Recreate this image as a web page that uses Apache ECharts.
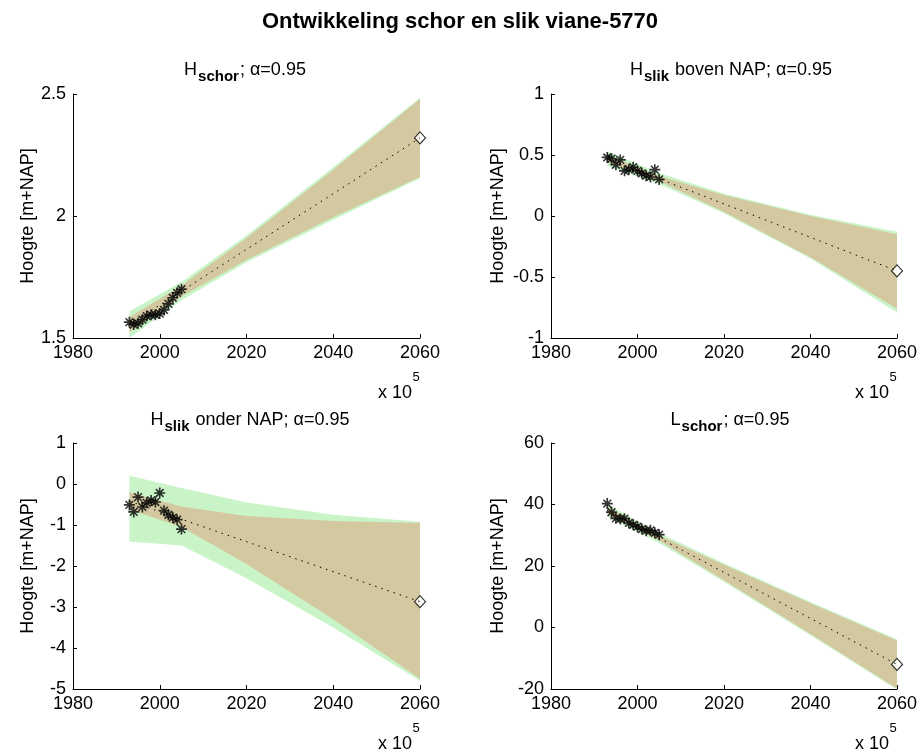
<!DOCTYPE html>
<html>
<head>
<meta charset="utf-8">
<script src="https://cdn.jsdelivr.net/npm/echarts@6/dist/echarts.min.js"></script>
<style>
  html, body { margin: 0; background: #fff; }
  #chart { width: 920px; height: 753px; }
</style>
</head>
<body>
<div id="chart"></div>
<script>
    var FONT = 'Liberation Sans, Arial, sans-serif';

    // meetjaren
    var years = [1993, 1994, 1995, 1996, 1997, 1998, 1999, 2000, 2001, 2002, 2003, 2004, 2005];
    var bandYears = [1993, 2005, 2020, 2040, 2060];
    var predYear = 2060;

    // H schor
    var schorH = [1.565, 1.555, 1.56, 1.575, 1.59, 1.595, 1.595, 1.60, 1.615, 1.64, 1.665, 1.685, 1.70];
    var schorTrend = [[1993, 1.555], [2060, 2.32]];
    var schorPred = 2.32;
    var schorGreenUp = [1.61, 1.73, 1.92, 2.20, 2.485];
    var schorGreenLo = [1.50, 1.655, 1.81, 1.985, 2.155];
    var schorTanUp = [1.585, 1.715, 1.91, 2.19, 2.48];
    var schorTanLo = [1.525, 1.67, 1.82, 1.995, 2.16];

    // H slik boven NAP
    var slikBovenH = [0.48, 0.47, 0.42, 0.46, 0.37, 0.38, 0.40, 0.37, 0.35, 0.33, 0.32, 0.38, 0.30];
    var slikBovenTrend = [[1993, 0.47], [2060, -0.45]];
    var slikBovenPred = -0.45;
    var slikBovenGreenUp = [0.53, 0.352, 0.183, 0.011, -0.13];
    var slikBovenGreenLo = [0.41, 0.262, 0.023, -0.349, -0.79];
    var slikBovenTanUp = [0.50, 0.327, 0.173, 0.001, -0.15];
    var slikBovenTanLo = [0.44, 0.287, 0.033, -0.339, -0.76];

    // H slik onder NAP
    var slikOnderH = [-0.51, -0.68, -0.32, -0.56, -0.46, -0.40, -0.44, -0.22, -0.65, -0.75, -0.82, -0.87, -1.10];
    var slikOnderTrend = [[1993, -0.42], [2060, -2.87]];
    var slikOnderPred = -2.87;
    var slikOnderGreenUp = [0.2, -0.1, -0.45, -0.75, -0.92];
    var slikOnderGreenLo = [-1.4, -1.5, -2.3, -3.5, -4.8];
    var slikOnderTanUp = [-0.2, -0.55, -0.78, -0.9, -0.95];
    var slikOnderTanLo = [-0.62, -1.05, -1.95, -3.3, -4.75];

    // L schor
    var schorL = [40.3, 37.5, 35.5, 35.3, 35.4, 34.0, 33.4, 32.8, 32.0, 31.5, 31.6, 30.8, 30.2];
    var schorLTrend = [[1993, 38.1], [2060, -12]];
    var schorLPred = -12;
    var schorLGreenUp = [40.1, 30.7, 20.9, 8.3, -3.8];
    var schorLGreenLo = [36.1, 27.5, 14.9, -2.5, -20.2];
    var schorLTanUp = [39.3, 29.9, 20.4, 7.9, -4.2];
    var schorLTanLo = [36.9, 28.3, 15.4, -2.1, -19.8];

    var GREEN = '#c8f4c8';
    var TAN = '#d4c8a0';
    var STAR = 'path://M-1.5,-10 L1.5,-10 L1.5,10 L-1.5,10 Z M-10,-1.5 L10,-1.5 L10,1.5 L-10,1.5 Z ' +
        'M-8,-6 L-6,-8 L8,6 L6,8 Z M6,-8 L8,-6 L-6,8 L-8,6 Z';

    function pair(xs, ys) {
        return xs.map(function (x, i) { return [x, ys[i]]; });
    }

    function band(g, up, lo, color) {
        return {
            type: 'custom',
            xAxisIndex: g,
            yAxisIndex: g,
            clip: true,
            silent: true,
            data: bandYears.map(function (x, i) { return [x, lo[i], up[i]]; }),
            encode: {x: 0, y: [1, 2]},
            renderItem: function (params, api) {
                if (params.dataIndex !== 0) return null;
                var pts = [];
                for (var i = 0; i < bandYears.length; i++) pts.push(api.coord([bandYears[i], up[i]]));
                for (var j = bandYears.length - 1; j >= 0; j--) pts.push(api.coord([bandYears[j], lo[j]]));
                return {type: 'polygon', shape: {points: pts}, style: {fill: color}};
            }
        };
    }

    function panelSeries(g, vals, trend, pred, gUp, gLo, tUp, tLo) {
        return [
            band(g, gUp, gLo, GREEN),
            band(g, tUp, tLo, TAN),
            {
                type: 'line', xAxisIndex: g, yAxisIndex: g, data: trend,
                showSymbol: false, silent: true,
                lineStyle: {color: '#000', width: 1, type: [1.5, 5]}
            },
            {
                type: 'scatter', xAxisIndex: g, yAxisIndex: g, data: pair(years, vals),
                symbol: STAR, symbolSize: 11, itemStyle: {color: '#000'}
            },
            {
                type: 'scatter', xAxisIndex: g, yAxisIndex: g, data: [[predYear, pred]],
                symbol: 'diamond', symbolSize: [11, 12],
                itemStyle: {color: '#fff', borderColor: '#000', borderWidth: 1.2}
            }
        ];
    }

    function xAx(g) {
        return {
            type: 'value', gridIndex: g, min: 1980, max: 2060, interval: 20,
            axisLine: {show: true, onZero: false, lineStyle: {color: '#000', width: 1}},
            axisTick: {show: true, inside: true, length: 4, lineStyle: {color: '#000'}},
            axisLabel: {color: '#000', fontSize: 18, fontFamily: FONT, margin: 6, formatter: function (v) { return String(v); }},
            splitLine: {show: false}
        };
    }

    function yAx(g, min, max, interval, gap) {
        return {
            type: 'value', gridIndex: g, min: min, max: max, interval: interval,
            name: 'Hoogte [m+NAP]', nameLocation: 'middle', nameGap: gap,
            nameTextStyle: {color: '#000', fontSize: 18, fontFamily: FONT},
            axisLine: {show: true, onZero: false, lineStyle: {color: '#000', width: 1}},
            axisTick: {show: true, inside: true, length: 4, lineStyle: {color: '#000'}},
            axisLabel: {color: '#000', fontSize: 18, fontFamily: FONT, margin: 7},
            splitLine: {show: false}
        };
    }

    var richSub = {
        h: {fontSize: 18, fontWeight: 'normal', color: '#000', fontFamily: FONT},
        s: {fontSize: 15, fontWeight: 'bold', color: '#000', fontFamily: FONT, padding: [12, 1, 0, 1]},
        n: {fontSize: 18, fontWeight: 'normal', color: '#000', fontFamily: FONT}
    };

    function subTitle(text, cx, top) {
        return {
            text: text, left: cx, top: top, textAlign: 'center',
            textStyle: {fontWeight: 'normal', rich: richSub}
        };
    }

    function expLabel(rx, by) {
        return [
            {type: 'text', x: rx - 8, y: by + 55, style: {text: 'x 10', font: '18px ' + FONT, fill: '#000', textAlign: 'right', textVerticalAlign: 'middle'}},
            {type: 'text', x: rx - 4, y: by + 39, style: {text: '5', font: '13px ' + FONT, fill: '#000', textAlign: 'center', textVerticalAlign: 'middle'}}
        ];
    }

    var chart = echarts.init(document.getElementById('chart'));
    var option = {
        animation: false,
        backgroundColor: '#fff',
        title: [
            {
                text: 'Ontwikkeling schor en slik viane-5770', left: 'center', top: 6,
                textStyle: {fontSize: 22, fontWeight: 'bold', color: '#000', fontFamily: FONT}
            },
            subTitle('{h|H}{s|schor}{n|; α=0.95}', 240, 52),
            subTitle('{h|H}{s|slik}{n| boven NAP; α=0.95}', 726, 52),
            subTitle('{h|H}{s|slik}{n| onder NAP; α=0.95}', 245, 402),
            subTitle('{h|L}{s|schor}{n|; α=0.95}', 725, 402)
        ],
        grid: [
            {left: 73, top: 94, width: 347, height: 244},
            {left: 551, top: 94, width: 346, height: 244},
            {left: 73, top: 443, width: 347, height: 246},
            {left: 551, top: 443, width: 346, height: 246}
        ],
        xAxis: [xAx(0), xAx(1), xAx(2), xAx(3)],
        yAxis: [
            yAx(0, 1.5, 2.5, 0.5, 36),
            yAx(1, -1, 1, 0.5, 44),
            yAx(2, -5, 1, 1, 36),
            yAx(3, -20, 60, 20, 44)
        ],
        graphic: [].concat(expLabel(420, 338), expLabel(897, 338), expLabel(420, 689), expLabel(897, 689)),
        series: [].concat(
            panelSeries(0, schorH, schorTrend, schorPred, schorGreenUp, schorGreenLo, schorTanUp, schorTanLo),
            panelSeries(1, slikBovenH, slikBovenTrend, slikBovenPred, slikBovenGreenUp, slikBovenGreenLo, slikBovenTanUp, slikBovenTanLo),
            panelSeries(2, slikOnderH, slikOnderTrend, slikOnderPred, slikOnderGreenUp, slikOnderGreenLo, slikOnderTanUp, slikOnderTanLo),
            panelSeries(3, schorL, schorLTrend, schorLPred, schorLGreenUp, schorLGreenLo, schorLTanUp, schorLTanLo)
        )
    };
    chart.setOption(option);
</script>
</body>
</html>
